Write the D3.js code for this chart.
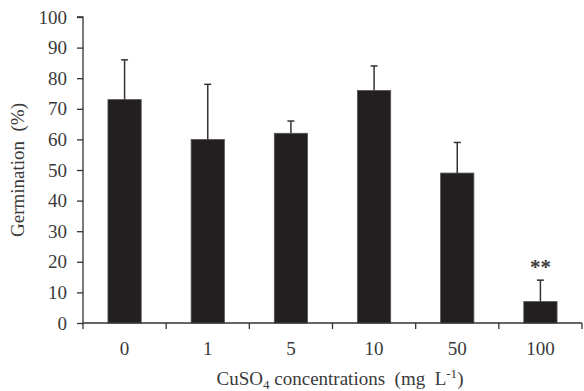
<!DOCTYPE html>
<html><head><meta charset="utf-8">
<script src="https://cdn.jsdelivr.net/npm/d3@7/dist/d3.min.js"></script>
<style>body{margin:0;background:#fff}svg{display:block}text{font-family:"Liberation Serif","DejaVu Serif",serif;fill:#3a3a3a;white-space:pre}</style>
</head><body><svg id="c" width="584" height="391"></svg>
<script>
const categories = ["0","1","5","10","50","100"];
const germination = [73, 60, 62, 76, 49, 7];
const errorTop = [86, 78, 66, 84, 59, 14];
const significance = ["", "", "", "", "", "**"];
const yTicks = [0,10,20,30,40,50,60,70,80,90,100];

const svg = d3.select("#c");
const m = {l:83, r:2, t:17, b:68};
const W = 584, H = 391;
const FS = 19;
const x = d3.scaleBand().domain(categories).range([m.l, W - m.r]).paddingInner(0.6).paddingOuter(0.3);
const y = d3.scaleLinear().domain([0,100]).range([H - m.b, m.t]);

svg.selectAll("rect.bar").data(categories).join("rect")
  .attr("class","bar")
  .attr("x", d => x(d)).attr("width", x.bandwidth())
  .attr("y", (d,i) => y(germination[i])).attr("height", (d,i) => y(0) - y(germination[i]))
  .attr("fill","#231f20").attr("stroke","#555").attr("stroke-width",0.8);

const cap = 7;
categories.forEach((c,i) => {
  const cx = x(c) + x.bandwidth()/2;
  svg.append("line").attr("x1",cx).attr("x2",cx).attr("y1",y(germination[i])).attr("y2",y(errorTop[i]))
    .attr("stroke","#333").attr("stroke-width",1.5);
  svg.append("line").attr("x1",cx-cap/2).attr("x2",cx+cap/2).attr("y1",y(errorTop[i])).attr("y2",y(errorTop[i]))
    .attr("stroke","#333").attr("stroke-width",1.5);
  if (significance[i]) {
    svg.append("text").attr("x",cx).attr("y",y(errorTop[i]) - 6).attr("text-anchor","middle")
      .attr("font-size",21).attr("font-weight","bold").text(significance[i]);
  }
});

const yAxis = d3.axisLeft(y).tickValues(yTicks).tickSize(6).tickPadding(10);
const gy = svg.append("g").attr("transform",`translate(${m.l},0)`).call(yAxis);
gy.selectAll("text").attr("font-size",FS).style("font-family","'Liberation Serif',serif").attr("fill","#3a3a3a");
gy.selectAll("line,path").attr("stroke","#333").attr("stroke-width",1.3);
gy.select("path").attr("d",`M-6,${y(100)}H0V${y(0)}`);

const gx = svg.append("g").attr("transform",`translate(0,${y(0)})`);
gx.append("line").attr("x1",m.l).attr("x2",W - m.r).attr("y1",0).attr("y2",0).attr("stroke","#333").attr("stroke-width",1.3);
const bounds = d3.range(categories.length + 1).map(i => m.l + i * (W - m.r - m.l) / categories.length);
gx.selectAll("line.t").data(bounds).join("line").attr("class","t")
  .attr("x1",d=>d).attr("x2",d=>d).attr("y1",0).attr("y2",6).attr("stroke","#333").attr("stroke-width",1.3);
gx.selectAll("text").data(categories).join("text")
  .attr("x", d => x(d) + x.bandwidth()/2).attr("y", 32).attr("text-anchor","middle")
  .attr("font-size",FS).text(d => d);

svg.append("text").attr("transform",`translate(24,${(y(0)+y(100))/2}) rotate(-90)`)
  .attr("text-anchor","middle").attr("font-size",FS).text("Germination  (%)");
const xt = svg.append("text").attr("x",340).attr("y",385).attr("text-anchor","middle").attr("font-size",FS);
xt.append("tspan").text("CuSO");
xt.append("tspan").attr("font-size",13).attr("dy",4).text("4");
xt.append("tspan").attr("dy",-4).text(" concentrations  (mg  L");
xt.append("tspan").attr("font-size",13).attr("dy",-7).text("-1");
xt.append("tspan").attr("dy",7).text(")");
</script></body></html>
